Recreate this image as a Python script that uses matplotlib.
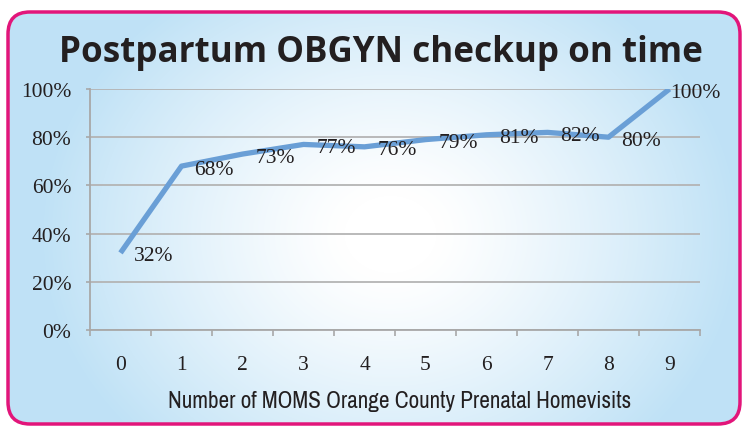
import numpy as np
import matplotlib
matplotlib.use('Agg')
import matplotlib.pyplot as plt
from matplotlib.patches import FancyBboxPatch
from matplotlib.textpath import TextPath
from matplotlib import font_manager as fm

# data
visits = ['0', '1', '2', '3', '4', '5', '6', '7', '8', '9']
pct = [32, 68, 73, 77, 76, 79, 81, 82, 80, 100]
yticks = [0, 20, 40, 60, 80, 100]

title = 'Postpartum OBGYN checkup on time'
xlabel = 'Number of MOMS Orange County Prenatal Homevisits'

W, H = 742, 427
fig = plt.figure(figsize=(W / 100, H / 100), dpi=100)


def shape_ratio(prop, s):
    # text width over cap height, from the glyph outlines
    w = TextPath((0, 0), s, size=20, prop=prop).get_extents().width
    h = TextPath((0, 0), 'H', size=20, prop=prop).get_extents().height
    return w / h


def pick_font(s, target, props):
    best, err = None, 1e9
    for p in props:
        try:
            e = abs(shape_ratio(p, s) - target)
        except Exception:
            continue
        if e < err:
            best, err = p, e
    return best


def narrow_candidates():
    out = [fm.FontProperties(family='Liberation Sans')]
    for f in fm.fontManager.ttflist:
        nm = f.name.lower()
        st = str(f.stretch).lower()
        if f.style != 'normal' or f.weight not in (400, 'normal', 'regular'):
            continue
        if 'serif' in nm and 'sans' not in nm:
            continue
        if 'mono' in nm:
            continue
        if 'narrow' in nm or 'condensed' in nm or 'condensed' in st:
            out.append(fm.FontProperties(fname=f.fname))
    return out


bold_candidates = [fm.FontProperties(family=f, weight='bold') for f in
                   ['Open Sans', 'Inter', 'Lato', 'Roboto', 'Noto Sans', 'DejaVu Sans', 'Liberation Sans']]

# background panel with radial gradient and pink rounded border
axbg = fig.add_axes([0, 0, 1, 1])
axbg.set_xlim(0, W)
axbg.set_ylim(H, 0)
axbg.axis('off')
yy, xx = np.mgrid[0:H, 0:W]
r = np.sqrt(((xx - 390) / 380.0) ** 2 + ((yy - 235) / 320.0) ** 2)
t = np.clip((r - 0.12) / 0.8, 0, 1) ** 1.2
edge = np.array([0.75, 0.885, 0.965])
img = (1 - t[..., None]) * np.array([1.0, 1.0, 1.0]) + t[..., None] * edge
im = axbg.imshow(img, extent=(0, W, H, 0), aspect='auto', interpolation='bilinear')
box = FancyBboxPatch((8, 13), 732, 412, boxstyle='round,pad=0,rounding_size=22',
                     facecolor='none', edgecolor='#E2157A', linewidth=2.5)
axbg.add_patch(box)
im.set_clip_path(box)

# main chart
ax = fig.add_axes([90 / W, 96 / H, 610 / W, 241 / H])
ax.set_facecolor('none')
x = np.arange(len(visits))
y = np.array(pct) / 100.0
ax.plot(x, y, color='#6A9FD6', linewidth=3.8, solid_capstyle='butt', zorder=3)

serif = 'Liberation Serif'
tc = '#231F20'
for i, v in enumerate(pct):
    dx = 13 if i < len(pct) - 1 else 1
    ax.annotate(f'{v}%', (x[i], y[i]), xytext=(dx, -3), textcoords='offset pixels',
                ha='left', va='center', fontsize=15.5, family=serif, color=tc,
                annotation_clip=False, zorder=4)

ax.set_xlim(-0.5, len(visits) - 0.5)
ax.set_ylim(0, 1)
ax.set_xticks(x)
ax.set_xticklabels(visits, family=serif, fontsize=15.5, color=tc)
ax.set_xticks(np.arange(-0.5, len(visits), 1), minor=True)
ax.tick_params(axis='x', which='major', length=0, pad=18)
ax.tick_params(axis='x', which='minor', length=4.5, width=1.2, color='#A8A8A8', direction='out')
ax.set_yticks(np.array(yticks) / 100.0)
ax.set_yticklabels([f'{v}%' for v in yticks], family=serif, fontsize=15.5, color=tc)
ax.tick_params(axis='y', length=3, width=1.2, color='#A8A8A8', pad=10.5)
ax.yaxis.grid(True, color='#B4B4B4', linewidth=1.3)
ax.set_axisbelow(True)
for s in ['top', 'right']:
    ax.spines[s].set_visible(False)
for s in ['left', 'bottom']:
    ax.spines[s].set_color('#A8A8A8')
    ax.spines[s].set_linewidth(1.3)

# title ~644 px wide with 25 px caps, axis label ~464 px wide with 16 px caps
tprop = pick_font(title, 644 / 25.0, bold_candidates)
xprop = pick_font(xlabel, 464 / 16.0, narrow_candidates())
ttl = fig.text(381 / W, 1 - 62 / H, title, ha='center', va='baseline',
               fontproperties=tprop, color=tc)
xl = fig.text(400 / W, 1 - 408 / H, xlabel, ha='center', va='baseline',
              fontproperties=xprop, color=tc)

rend = fig.canvas.get_renderer()
for txt, target in [(ttl, 644.0), (xl, 464.0)]:
    txt.set_fontsize(20)
    w = txt.get_window_extent(rend).width
    txt.set_fontsize(20 * target / w)

fig.savefig('out.png', dpi=100)
